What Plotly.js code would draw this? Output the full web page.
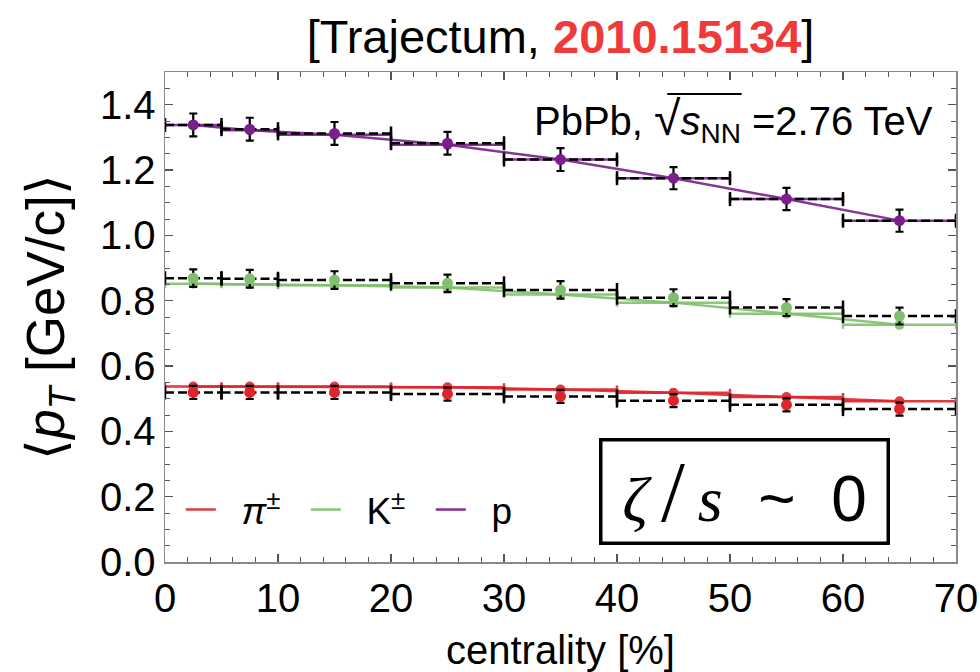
<!DOCTYPE html>
<html>
<head>
<meta charset="utf-8">
<script src="https://cdn.plot.ly/plotly-3.0.1.min.js"></script>
<style>html,body{margin:0;padding:0;background:#fff;}#plot{width:980px;height:672px;}</style>
</head>
<body>
<div id="plot"></div>
<script>
// ---- data ----
const centers = [2.5, 7.5, 15, 25, 35, 45, 55, 65];
const binLo   = [0, 5, 10, 20, 30, 40, 50, 60];
const binHi   = [5, 10, 20, 30, 40, 50, 60, 70];

const pionData   = [0.519, 0.519, 0.519, 0.514, 0.507, 0.494, 0.481, 0.468];
const pionErr    = [0.020, 0.020, 0.020, 0.020, 0.020, 0.020, 0.020, 0.020];
const pionModel  = [0.537, 0.537, 0.537, 0.535, 0.528, 0.518, 0.505, 0.492];

const kaonData   = [0.869, 0.867, 0.863, 0.853, 0.833, 0.809, 0.779, 0.753];
const kaonErr    = [0.027, 0.027, 0.027, 0.027, 0.027, 0.026, 0.026, 0.026];
const kaonModel  = [0.852, 0.850, 0.847, 0.840, 0.819, 0.794, 0.760, 0.726];

const protonData  = [1.338, 1.325, 1.312, 1.282, 1.232, 1.175, 1.111, 1.045];
const protonErr   = [0.035, 0.035, 0.035, 0.035, 0.035, 0.034, 0.034, 0.034];
const protonModel = [1.338, 1.322, 1.308, 1.277, 1.232, 1.175, 1.111, 1.045];

const speciesNames = ['<i>π</i><sup>±</sup>', 'K<sup>±</sup>', 'p'];
const xTickVals = [0, 10, 20, 30, 40, 50, 60, 70];
const yTickVals = [0, 0.2, 0.4, 0.6, 0.8, 1.0, 1.2, 1.4];
const xTitle = 'centrality [%]';
const yTitle = '⟨<i>p</i><sub><i>T</i></sub> [GeV/c]⟩';

// ---- styles ----
const colors = ['#e0242a', '#80c06c', '#7a1f8c'];
const FONT = 'Liberation Sans, Arial, sans-serif';
const NB = '\u00a0\u00a0';

const halfW = binHi.map((h, i) => (h - binLo[i]) / 2);
const traces = [];
const species = [
  {data: pionData, err: pionErr, model: pionModel},
  {data: kaonData, err: kaonErr, model: kaonModel},
  {data: protonData, err: protonErr, model: protonModel}
];

species.forEach((s, k) => {
  const c = colors[k];
  traces.push({x: centers, y: s.model, mode: 'lines', name: NB + speciesNames[k],
    line: {color: c, width: 2.5}, opacity: 0.9, showlegend: true, hoverinfo: 'skip'});
  traces.push({x: centers, y: s.model, mode: 'markers', showlegend: false,
    marker: {color: c, size: 10}, opacity: 0.9,
    error_x: {type: 'data', array: halfW, symmetric: true, color: c, thickness: 2.5, width: 4}});
});

species.forEach((s, k) => {
  const c = colors[k];
  const bx = [], by = [], capx = [], capy = [];
  binLo.forEach((lo, i) => {
    bx.push(lo, binHi[i], null); by.push(s.data[i], s.data[i], null);
    capx.push(lo, binHi[i]); capy.push(s.data[i], s.data[i]);
  });
  traces.push({x: bx, y: by, mode: 'lines', showlegend: false,
    line: {color: '#000', width: 2.5, dash: '9px,4px'}});
  traces.push({x: capx, y: capy, mode: 'markers', showlegend: false,
    marker: {symbol: 'line-ns', size: 10, line: {color: '#000', width: 2.5}}});
  traces.push({x: centers, y: s.data, mode: 'markers', showlegend: false,
    marker: {color: c, size: 11},
    error_y: {type: 'data', array: s.err, color: '#000', thickness: 2.2, width: 4}});
});

const axisCommon = {
  showgrid: false, zeroline: false, showline: true, linecolor: '#8a8a8a', linewidth: 1.5,
  mirror: 'allticks', ticks: 'inside', ticklen: 8, tickwidth: 1.3, tickcolor: '#555',
  tickfont: {family: FONT, size: 40, color: '#000'}
};

const layout = {
  width: 980, height: 672,
  margin: {l: 165, r: 24, t: 72, b: 110},
  paper_bgcolor: '#fff', plot_bgcolor: '#fff',
  font: {family: FONT, color: '#000'},
  title: {text: '[Trajectum, <b><span style="color:#f03a3a">2010.15134</span></b>]',
    font: {family: FONT, size: 47, color: '#000'}, x: 0.5, xref: 'paper', xanchor: 'center',
    y: 0.945, yref: 'container', yanchor: 'middle'},
  xaxis: Object.assign({}, axisCommon, {
    range: [0, 70], tickvals: xTickVals, ticktext: xTickVals.map(String),
    minor: {dtick: 2, ticks: 'inside', ticklen: 5, tickcolor: '#555', tickwidth: 1}
  }),
  yaxis: Object.assign({}, axisCommon, {
    range: [0, 1.5], tickvals: yTickVals, ticktext: yTickVals.map(v => v.toFixed(1)),
    minor: {dtick: 0.05, ticks: 'inside', ticklen: 5, tickcolor: '#555', tickwidth: 1},
    title: {text: yTitle, font: {family: FONT, size: 53}, standoff: 18}
  }),
  legend: {orientation: 'h', x: 0.02, xanchor: 'left', y: 0.106, yanchor: 'middle',
    font: {family: FONT, size: 37, color: '#000'}, bgcolor: 'rgba(0,0,0,0)', itemwidth: 30,
    entrywidth: 80, entrywidthmode: 'pixels', traceorder: 'normal'},
  showlegend: true,
  annotations: [
    {xref: 'paper', yref: 'paper', x: 0.5, y: -0.18, xanchor: 'center', yanchor: 'middle',
     text: xTitle, showarrow: false, font: {family: FONT, size: 40, color: '#000'}},
    {xref: 'paper', yref: 'paper', x: 0.973, y: 0.9, xanchor: 'right', yanchor: 'middle',
     text: 'PbPb, <span style="font-size:48px">√</span><i>s</i><sub>NN</sub> =2.76 TeV', showarrow: false,
     font: {family: FONT, size: 40, color: '#000'}},
    {xref: 'paper', yref: 'paper', x: 0.733, y: 0.143, xanchor: 'center', yanchor: 'middle',
     text: '<span style="font-family:\'Liberation Serif\'"><i>ζ</i>\u2009</span><span style="font-family:\'Liberation Serif\';font-size:86px">/</span><span style="font-family:\'Liberation Serif\'">\u2009<i>s</i></span>\u00a0 ~ \u00a00',
     showarrow: false, width: 284, height: 100, bordercolor: '#000', borderwidth: 3.5, borderpad: 0,
     bgcolor: '#fff', font: {family: FONT, size: 64, color: '#000'}}
  ],
  shapes: [
    {type: 'line', xref: 'paper', yref: 'paper', x0: 0.635, x1: 0.729, y0: 0.955, y1: 0.955,
     line: {color: '#000', width: 2}}
  ]
};

Plotly.newPlot('plot', traces, layout, {staticPlot: true, displayModeBar: false});
</script>
</body>
</html>
